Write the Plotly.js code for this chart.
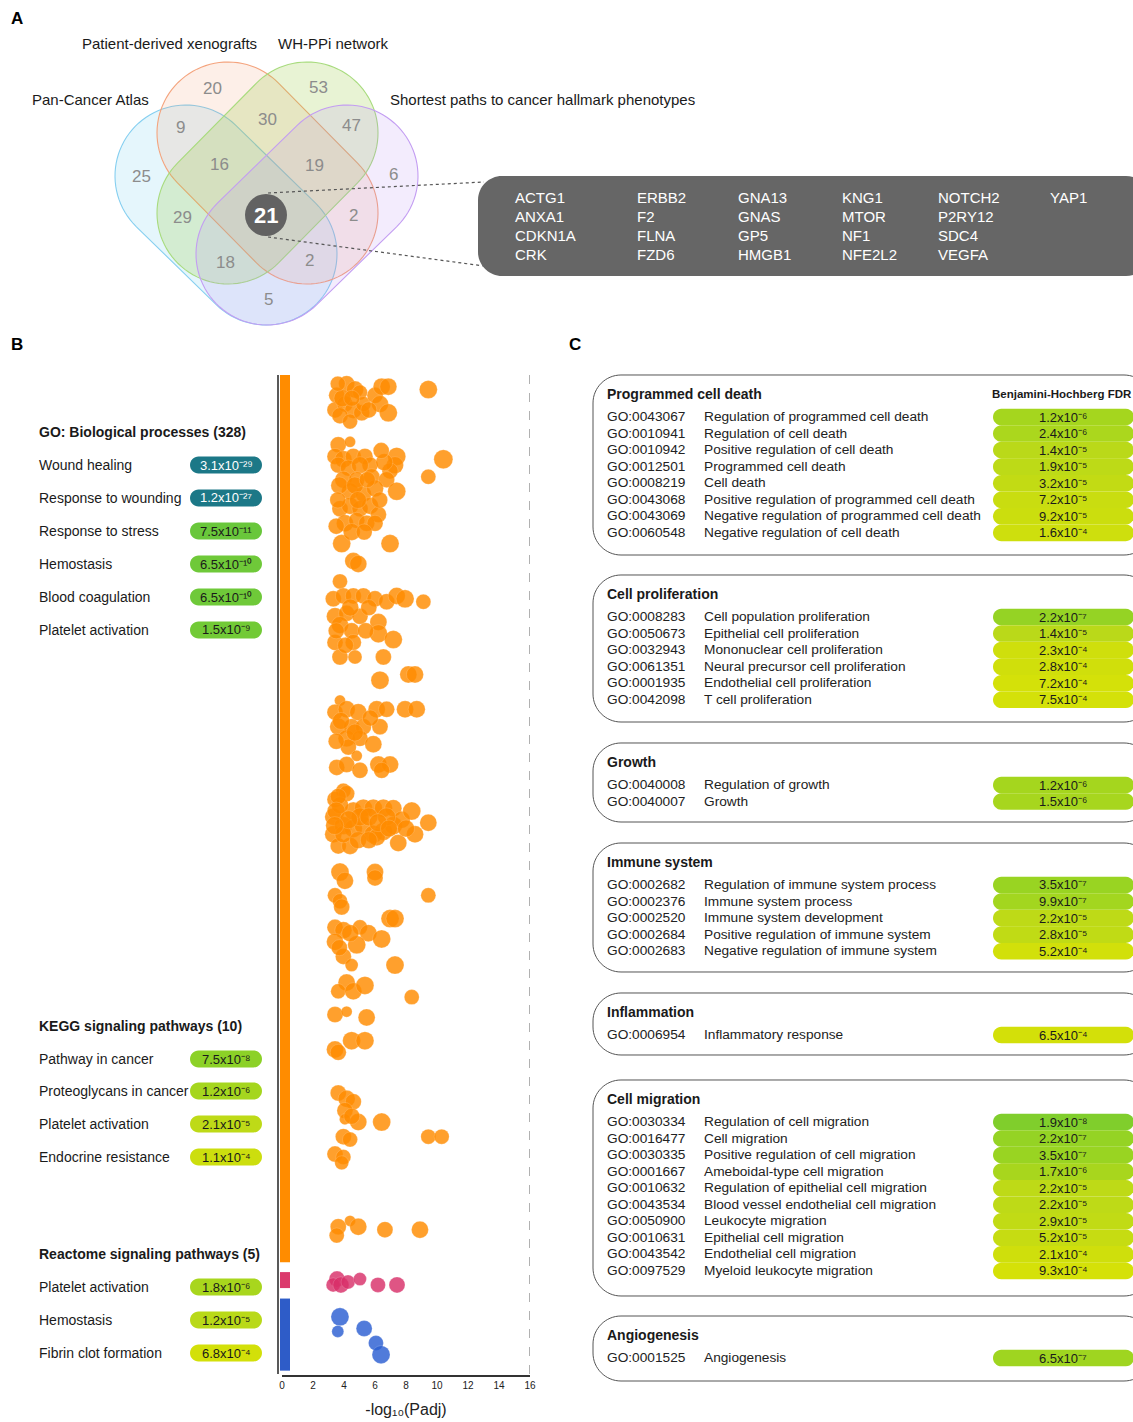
<!DOCTYPE html>
<html><head><meta charset="utf-8">
<script src="https://cdn.plot.ly/plotly-3.0.1.min.js"></script>
<style>html,body{margin:0;padding:0;background:#fff}#fig{width:1133px;height:1422px}</style>
</head><body><div id="fig"></div>
<script>
// ================= DATA =================
// Panel A: Venn
const vennSets = ["Pan-Cancer Atlas","Patient-derived xenografts","WH-PPi network","Shortest paths to cancer hallmark phenotypes"];
const vennRegions = ["X","W","PX","XW","WS","P","PXW","XWS","S","PW","PXWS","XS","PWS","PXS","PS"];
const vennCounts = [20,53,9,30,47,25,16,19,6,29,21,2,18,2,5];
const coreGenes = [["ACTG1","ANXA1","CDKN1A","CRK"],["ERBB2","F2","FLNA","FZD6"],["GNA13","GNAS","GP5","HMGB1"],["KNG1","MTOR","NF1","NFE2L2"],["NOTCH2","P2RY12","SDC4","VEGFA"],["YAP1"]];

// Panel B: enrichment terms
const goHeader = "GO: Biological processes (328)";
const goTerms = ["Wound healing","Response to wounding","Response to stress","Hemostasis","Blood coagulation","Platelet activation"];
const goPadj = ["3.1e-29","1.2e-27","7.5e-11","6.5e-10","6.5e-10","1.5e-9"];
const keggHeader = "KEGG signaling pathways (10)";
const keggTerms = ["Pathway in cancer","Proteoglycans in cancer","Platelet activation","Endocrine resistance"];
const keggPadj = ["7.5e-8","1.2e-6","2.1e-5","1.1e-4"];
const reactomeHeader = "Reactome signaling pathways (5)";
const reactomeTerms = ["Platelet activation","Hemostasis","Fibrin clot formation"];
const reactomePadj = ["1.8e-6","1.2e-5","6.8e-4"];

// Panel B bubbles: -log10(Padj), term rank, gene count
const goLogP = [4.17,3.53,4.71,5.03,3.42,4.06,4.6,3.74,4.39,5.14,5.25,6.0,6.43,6.86,6.32,6.86,9.44,3.9,4.5,5.6,3.6,
 3.63,4.39,3.42,3.96,4.6,5.35,5.68,3.63,4.28,5.03,7.4,7.29,6.97,3.96,4.82,5.79,6.75,7.4,9.44,10.41,4.39,5.25,6.0,3.74,4.39,5.03,5.68,6.22,4.06,4.82,5.46,6.0,3.85,6.97,4.6,4.92,3.74,16.6,
 3.7,4.7,5.5,3.6,4.9,6.3,3.5,4.5,5.3,6.6,6.4,
 3.31,3.96,4.6,5.25,6.0,6.75,7.4,7.94,9.12,3.42,4.17,5.03,3.74,4.49,6.22,6.22,7.18,3.42,4.6,3.74,4.71,6.54,4.4,5.6,3.5,5.4,4.1,
 6.32,8.15,8.58,
 3.74,3.42,4.17,4.92,6.11,6.75,7.94,8.69,3.63,4.49,5.25,6.32,4.17,5.03,5.89,4.28,16.6,3.8,5.7,4.7,3.5,
 4.82,3.53,4.17,5.03,6.22,6.97,6.43,
 3.96,3.42,
 4.17,3.31,3.31,3.96,4.6,5.25,5.89,6.54,7.18,4.6,5.25,5.89,6.54,7.18,7.72,8.37,9.44,8.58,7.5,3.63,4.39,6.11,3.74,3.96,5.03,6.75,3.63,3.5,4.3,5.6,6.2,6.9,4.9,5.6,3.4,8.0,
 3.74,4.06,6.0,6.0,
 3.42,3.74,3.85,9.44,
 6.97,7.29,3.42,3.96,5.03,5.57,6.43,3.42,4.82,3.96,4.49,7.29,4.4,3.7,
 4.17,3.63,4.6,5.35,8.37,
 3.42,4.17,5.46,
 4.49,5.35,3.42,3.63];
const goRank = [3,7,5,6,12,10,12,14,16,13,10,7,4,4,10,13,5,8,8,12,3,
 24,23,28,29,28,28,31,31,32,31,28,31,33,36,36,35,36,40,35,29,40,41,39,46,45,46,45,48,51,50,51,51,58,58,64,65,71,40,
 38,38,36,43,43,43,52,54,54,30,26,
 77,76,76,76,77,78,76,77,78,83,82,83,86,88,85,89,91,92,92,97,97,97,80,80,88,88,93,
 105,103,103,
 112,116,115,116,115,115,115,115,121,121,121,121,125,125,127,128,116,119,118,123,126,
 131,135,134,136,134,134,136,
 143,146,
 144,152,158,155,150,149,149,149,149,156,155,158,157,155,153,150,154,158,161,162,162,159,148,158,152,152,145,150,153,152,154,156,160,160,155,156,
 171,174,171,173,
 179,181,183,179,
 187,187,190,191,190,192,194,195,196,200,203,203,192,197,
 209,212,212,210,214,
 220,219,221,
 229,229,232,233];
const goCount = [10,10,11,9,10,10,11,10,9,10,9,10,11,11,11,12,12,11,10,10,9,
 10,5,10,11,10,10,10,10,10,11,12,11,10,11,10,10,10,12,9,13,11,10,11,10,11,10,11,10,11,10,10,10,12,12,11,11,9,10,
 11,11,10,10,11,10,10,11,10,11,10,
 10,10,10,10,10,10,11,12,9,11,10,10,11,10,11,12,12,10,10,10,8,10,11,10,10,10,10,
 12,11,11,
 5,10,11,11,11,10,11,11,11,10,10,10,11,10,11,10,9,11,10,11,10,
 5,10,10,10,11,11,10,
 9,10,
 10,11,11,12,12,12,12,12,11,12,12,12,12,12,11,12,11,11,11,10,11,11,11,11,12,12,10,12,12,12,12,11,11,11,12,11,
 12,11,11,10,
 9,9,10,9,
 12,12,10,11,9,11,12,11,12,10,7,12,11,10,
 11,9,11,12,9,
 10,5,11,
 12,12,11,10];
const keggLogP = [3.63,4.17,4.6,4.06,4.06,4.92,6.43,3.96,4.39,9.44,10.3,3.42,3.96,3.85,4.5,4.39,3.63,3.53,4.92,6.64,8.9];
const keggRank = [247,249,250,253,256,257,257,262,263,262,262,268,269,271,255,291,293,296,293,294,294];
const keggCount = [10,11,10,10,5,11,12,10,9,9,9,10,9,8,10,5,10,9,11,10,11];
const reactALogP = [3.55,3.3,3.8,4.26,5.03,6.19,7.42];
const reactARank = [311,313,313,312,311,313,313];
const reactACount = [10,8,10,8,7,9,10];
const reactBLogP = [3.74,3.6,5.3,6.06,6.39];
const reactBRank = [324,329,328,333,337];
const reactBCount = [12,6,10,9,12];
const bandStart = [0,308.6,317.7];
const bandEnd = [305.2,314.1,342.5];
const xTicks = [0,2,4,6,8,10,12,14,16];

// Panel C: GO categories
const pcdIds = ["GO:0043067","GO:0010941","GO:0010942","GO:0012501","GO:0008219","GO:0043068","GO:0043069","GO:0060548"];
const pcdTerms = ["Regulation of programmed cell death","Regulation of cell death","Positive regulation of cell death","Programmed cell death","Cell death","Positive regulation of programmed cell death","Negative regulation of programmed cell death","Negative regulation of cell death"];
const pcdFdr = ["1.2e-6","2.4e-6","1.4e-5","1.9e-5","3.2e-5","7.2e-5","9.2e-5","1.6e-4"];
const prolifIds = ["GO:0008283","GO:0050673","GO:0032943","GO:0061351","GO:0001935","GO:0042098"];
const prolifTerms = ["Cell population proliferation","Epithelial cell proliferation","Mononuclear cell proliferation","Neural precursor cell proliferation","Endothelial cell proliferation","T cell proliferation"];
const prolifFdr = ["2.2e-7","1.4e-5","2.3e-4","2.8e-4","7.2e-4","7.5e-4"];
const growthIds = ["GO:0040008","GO:0040007"];
const growthTerms = ["Regulation of growth","Growth"];
const growthFdr = ["1.2e-6","1.5e-6"];
const immuneIds = ["GO:0002682","GO:0002376","GO:0002520","GO:0002684","GO:0002683"];
const immuneTerms = ["Regulation of immune system process","Immune system process","Immune system development","Positive regulation of immune system","Negative regulation of immune system"];
const immuneFdr = ["3.5e-7","9.9e-7","2.2e-5","2.8e-5","5.2e-4"];
const inflamIds = ["GO:0006954"];
const inflamTerms = ["Inflammatory response"];
const inflamFdr = ["6.5e-4"];
const migIds = ["GO:0030334","GO:0016477","GO:0030335","GO:0001667","GO:0010632","GO:0043534","GO:0050900","GO:0010631","GO:0043542","GO:0097529"];
const migTerms = ["Regulation of cell migration","Cell migration","Positive regulation of cell migration","Ameboidal-type cell migration","Regulation of epithelial cell migration","Blood vessel endothelial cell migration","Leukocyte migration","Epithelial cell migration","Endothelial cell migration","Myeloid leukocyte migration"];
const migFdr = ["1.9e-8","2.2e-7","3.5e-7","1.7e-6","2.2e-5","2.2e-5","2.9e-5","5.2e-5","2.1e-4","9.3e-4"];
const angioIds = ["GO:0001525"];
const angioTerms = ["Angiogenesis"];
const angioFdr = ["6.5e-7"];
const catNames = ["Programmed cell death","Cell proliferation","Growth","Immune system","Inflammation","Cell migration","Angiogenesis"];

// ================= LAYOUT HELPERS =================
const W=1133,H=1422;
const PX=x=>x/W, PY=y=>1-y/H;
const FONT="Liberation Sans, Arial, Helvetica, sans-serif";
const shapes=[], ann=[];
function txt(x,y,t,o={}){
  ann.push({xref:'paper',yref:'paper',x:PX(x),y:PY(y),text:t,showarrow:false,
    xanchor:o.anchor||'left',yanchor:'middle',borderpad:0,
    font:{family:FONT,size:o.size||14,color:o.color||'#1a1a1a'}});
}
const pt=(x,y)=>PX(x).toFixed(5)+','+PY(y).toFixed(5);
function rrPath(x0,y0,x1,y1,r){
  const k=0.45;
  return 'M'+pt(x0+r,y0)+' L'+pt(x1-r,y0)+
   ' C'+pt(x1-r*k,y0)+' '+pt(x1,y0+r*k)+' '+pt(x1,y0+r)+
   ' L'+pt(x1,y1-r)+' C'+pt(x1,y1-r*k)+' '+pt(x1-r*k,y1)+' '+pt(x1-r,y1)+
   ' L'+pt(x0+r,y1)+' C'+pt(x0+r*k,y1)+' '+pt(x0,y1-r*k)+' '+pt(x0,y1-r)+
   ' L'+pt(x0,y0+r)+' C'+pt(x0,y0+r*k)+' '+pt(x0+r*k,y0)+' '+pt(x0+r,y0)+' Z';
}
function capsule(c1,c2,R){
  const a=Math.atan2(c2[1]-c1[1],c2[0]-c1[0]);const N=48;const p=[];
  for(let i=0;i<=N;i++){const t=a-Math.PI/2+Math.PI*i/N;p.push([c2[0]+R*Math.cos(t),c2[1]+R*Math.sin(t)]);}
  for(let i=0;i<=N;i++){const t=a+Math.PI/2+Math.PI*i/N;p.push([c1[0]+R*Math.cos(t),c1[1]+R*Math.sin(t)]);}
  return 'M'+p.map(q=>pt(q[0],q[1])).join(' L')+' Z';
}
const SUP={'0':'⁰','1':'¹','2':'²','3':'³','4':'⁴','5':'⁵','6':'⁶','7':'⁷','8':'⁸','9':'⁹','-':'⁻'};
function sci(s){const [m,e]=s.split('e');return m+'x10'+e.split('').map(c=>SUP[c]).join('');}
const cAnch=[[-11,[100,198,62]],[-9,[112,201,56]],[-7.7,[128,206,44]],[-6.7,[148,211,36]],[-5.9,[165,214,30]],[-4.85,[186,217,25]],[-4,[204,222,14]],[-3,[213,225,8]]];
function fdrColor(s){
  const l=Math.log10(parseFloat(s));
  if(l<-20) return 'rgb(28,120,135)';
  if(l<=cAnch[0][0]) return 'rgb('+cAnch[0][1].join(',')+')';
  for(let i=1;i<cAnch.length;i++){
    if(l<=cAnch[i][0]){const [a0,c0]=cAnch[i-1],[a1,c1]=cAnch[i];const f=(l-a0)/(a1-a0);
      return 'rgb('+c0.map((v,j)=>Math.round(v+(c1[j]-v)*f)).join(',')+')';}
  }
  return 'rgb('+cAnch[cAnch.length-1][1].join(',')+')';
}
function pill(x0,x1,yc,h,s,fs,cx){
  shapes.push({type:'path',xref:'paper',yref:'paper',path:rrPath(x0,yc-h/2,x1,yc+h/2,h/2),fillcolor:fdrColor(s),line:{width:0}});
  const dark=Math.log10(parseFloat(s))<-20;
  txt(cx,yc,sci(s),{anchor:'center',size:fs,color:dark?'#ffffff':'#1a1a1a'});
}

// ================= PANEL A =================
txt(10,19,'<b>A</b>',{size:17,color:'#000'});
const capDefs=[ // P, X, W, S
  {c1:[186,176],c2:[266,254],stroke:'#86CFF0',fill:'rgba(110,205,240,0.18)'},
  {c1:[228,133],c2:[307,213],stroke:'#F4A47E',fill:'rgba(245,155,110,0.16)'},
  {c1:[307,133],c2:[228,213],stroke:'#A8DB7E',fill:'rgba(150,200,60,0.22)'},
  {c1:[347,176],c2:[267,254],stroke:'#C39DF2',fill:'rgba(180,135,240,0.16)'}];
capDefs.forEach(d=>shapes.push({type:'path',xref:'paper',yref:'paper',layer:'below',path:capsule(d.c1,d.c2,71),fillcolor:d.fill,line:{color:d.stroke,width:1.1}}));
const setLabelPos=[[90,99,'center'],[169,43,'center'],[333,43,'center'],[389,99,'left']];
vennSets.forEach((s,i)=>txt(setLabelPos[i][0],setLabelPos[i][1],s,{anchor:setLabelPos[i][2],size:15,color:'#1a1a1a'}));
const regionPos={X:[213,88],W:[318,87],PX:[180,128],XW:[267,119],WS:[352,125],P:[141,176],PXW:[219,164],XWS:[315,165],S:[393,174],PW:[182,218],PXWS:[266,215],XS:[353,215],PWS:[225,262],PXS:[309,261],PS:[268,300]};
shapes.push({type:'line',xref:'paper',yref:'paper',x0:PX(268),y0:PY(193),x1:PX(484),y1:PY(182),line:{color:'#555',width:1.2,dash:'dot'}});
shapes.push({type:'line',xref:'paper',yref:'paper',x0:PX(268),y0:PY(237),x1:PX(484),y1:PY(266),line:{color:'#555',width:1.2,dash:'dot'}});
vennRegions.forEach((r,i)=>{
  const p=regionPos[r];
  if(r==='PXWS'){
    shapes.push({type:'circle',xref:'paper',yref:'paper',x0:PX(p[0]-21),x1:PX(p[0]+21),y0:PY(p[1]+21),y1:PY(p[1]-21),fillcolor:'#626262',line:{width:0}});
    txt(p[0],p[1],'<b>'+vennCounts[i]+'</b>',{anchor:'center',size:22,color:'#fff'});
  } else txt(p[0],p[1],String(vennCounts[i]),{anchor:'center',size:17,color:'#8c8c8c'});
});
shapes.push({type:'path',xref:'paper',yref:'paper',path:rrPath(478,176,1150,276,24),fillcolor:'#666666',line:{width:0}});
const geneColX=[514,636,737,841,937,1049], geneRowY=[197,216,235,254];
coreGenes.forEach((col,i)=>col.forEach((g,j)=>txt(geneColX[i],geneRowY[j],g,{size:15,color:'#fff'})));

// ================= PANEL B =================
txt(10,344,'<b>B</b>',{size:17,color:'#000'});
txt(38,432,'<b>'+goHeader+'</b>',{size:14});
const goY=[465,498,531,564,597,630];
goTerms.forEach((t,i)=>{txt(38,goY[i],t,{size:14});pill(190,262,goY[i],17,goPadj[i],13,226);});
txt(38,1026,'<b>'+keggHeader+'</b>',{size:14});
const keggY=[1059,1091,1124,1157];
keggTerms.forEach((t,i)=>{txt(38,keggY[i],t,{size:14});pill(190,262,keggY[i],17,keggPadj[i],13,226);});
txt(38,1254,'<b>'+reactomeHeader+'</b>',{size:14});
const reactY=[1287,1320,1353];
reactomeTerms.forEach((t,i)=>{txt(38,reactY[i],t,{size:14});pill(190,262,reactY[i],17,reactomePadj[i],13,226);});

shapes.push({type:'line',xref:'paper',yref:'paper',x0:PX(278),x1:PX(278),y0:PY(375),y1:PY(1374),line:{color:'#222',width:1.5}});
const bandColors=['#FF8C00','#DB3A6C','#2E5CC8'];
bandStart.forEach((s,i)=>shapes.push({type:'rect',xref:'paper',yref:'y',x0:PX(280),x1:PX(290),y0:s,y1:bandEnd[i],fillcolor:bandColors[i],line:{width:0}}));
shapes.push({type:'line',xref:'x',yref:'paper',x0:16,x1:16,y0:PY(1374),y1:PY(372),line:{color:'#888',width:1.3,dash:'dash'}});

const sz=c=>c.map(v=>6+v);
function bub(x,y,c,col){return {type:'scatter',mode:'markers',x:x,y:y,cliponaxis:false,hoverinfo:'skip',
  marker:{size:sz(c),color:col,opacity:0.82,line:{color:'rgba(255,255,255,0.4)',width:0.5}}};}
const traces=[bub(goLogP,goRank,goCount,'#FF8C00'),bub(keggLogP,keggRank,keggCount,'#FF8C00'),
  bub(reactALogP,reactARank,reactACount,'#D9306A'),bub(reactBLogP,reactBRank,reactBCount,'#2C5FD2')];

// ================= PANEL C =================
txt(568,344,'<b>C</b>',{size:17,color:'#000'});
const catIds=[pcdIds,prolifIds,growthIds,immuneIds,inflamIds,migIds,angioIds];
const catTerms=[pcdTerms,prolifTerms,growthTerms,immuneTerms,inflamTerms,migTerms,angioTerms];
const catFdr=[pcdFdr,prolifFdr,growthFdr,immuneFdr,inflamFdr,migFdr,angioFdr];
const boxTop=[375,575,743,843,993,1080,1316], boxBot=[555,722,822,972,1055,1296,1381];
const STEP=16.55;
catNames.forEach((n,k)=>{
  shapes.push({type:'path',xref:'paper',yref:'paper',path:rrPath(593,boxTop[k],1152,boxBot[k],28),fillcolor:'rgba(0,0,0,0)',line:{color:'#555',width:1}});
  txt(606,boxTop[k]+19,'<b>'+n+'</b>',{size:14});
  const y0=boxTop[k]+41.5;
  catIds[k].forEach((id,j)=>{
    const y=y0+j*STEP;
    txt(606,y,id,{size:13.7,color:'#222'});
    txt(703,y,catTerms[k][j],{size:13.7,color:'#222'});
    pill(993,1134,y+0.5,16.6,catFdr[k][j],13,1063);
  });
});
txt(1062,394,'<b>Benjamini-Hochberg FDR</b>',{size:11.5,anchor:'center'});

const layout={width:W,height:H,margin:{l:0,r:0,t:0,b:0},paper_bgcolor:'#fff',plot_bgcolor:'rgba(0,0,0,0)',showlegend:false,
  xaxis:{domain:[PX(282),PX(530)],range:[0,16],tickvals:xTicks,ticks:'',showgrid:false,zeroline:false,showline:true,
    linecolor:'#333',linewidth:1.5,tickfont:{family:FONT,size:10,color:'#222'},fixedrange:true,
    title:{text:'-log₁₀(Padj)',font:{family:FONT,size:16,color:'#222'},standoff:14}},
  yaxis:{domain:[1-1375/H,1-375/H],range:[344,0],visible:false,fixedrange:true},
  shapes:shapes,annotations:ann};
Plotly.newPlot('fig',traces,layout,{displayModeBar:false,staticPlot:true});
</script></body></html>
